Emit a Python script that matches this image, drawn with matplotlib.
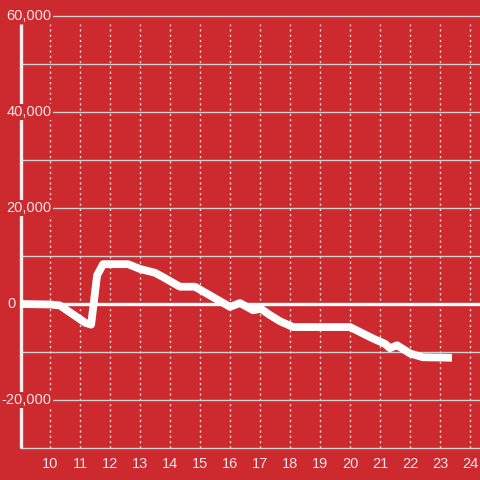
import matplotlib
matplotlib.use("Agg")
import matplotlib.pyplot as plt

# Data: hour of day vs. value
hours = [9.0, 10.0, 10.33, 11.17, 11.37, 11.57, 11.77, 12.6, 13.0, 13.5, 13.77,
         14.33, 14.83, 16.0, 16.33, 16.77, 17.03, 17.33, 17.67, 18.1, 20.0,
         20.77, 21.17, 21.33, 21.57, 22.0, 22.43, 23.4]
values = [0, -100, -300, -3900, -4300, 6000, 8300, 8300, 7300, 6500, 5600,
          3600, 3600, -600, 200, -1300, -1000, -2300, -3600, -4800, -4800,
          -7200, -8300, -9200, -8600, -10300, -11100, -11200]

x_ticks = list(range(10, 25))
x_tick_labels = [str(h) for h in x_ticks]
y_ticks = [60000, 40000, 20000, 0, -20000]
y_tick_labels = ["60,000", "40,000", "20,000", "0", "-20,000"]
grid_levels = list(range(-30000, 60001, 10000))

BG = "#cc2a2f"
TXT = "#f3e4e4"

fig = plt.figure(figsize=(4.8, 4.8), dpi=100, facecolor=BG)
ax = fig.add_axes([0, 0, 1, 1], facecolor=BG)
xa = 9.0                      # axis position (hour)
xl, xr = xa - 20 / 30, xa + 460 / 30
ax.set_xlim(xl, xr)
ax.set_ylim(-30000 - 32 / 48 * 10000, 60000 + 16 / 48 * 10000)
ax.axis("off")

# horizontal solid grid
ax.hlines(grid_levels, xa, xr, colors="#d0d0d0", linewidth=1.0, zorder=1)
# vertical dotted grid
ax.vlines(x_ticks, -30000, 58300, colors="#e0d4d4", linewidth=1.0,
          linestyles=(0, (1.6, 2.2)), zorder=1)
# zero line
ax.hlines([0], xa, xr, colors="white", linewidth=2.4, zorder=2)
# left axis
ax.vlines([xa + 0.02], -30000, 58300, colors="#f2eeee", linewidth=2.4, zorder=2)

# data line
ax.plot(hours, values, color="white", linewidth=5.6, solid_joinstyle="round",
        solid_capstyle="butt", zorder=3)

font = dict(family=["Liberation Sans", "DejaVu Sans"], fontsize=10.5, color=TXT)
for v, lab in zip(y_ticks, y_tick_labels):
    if v == 0:
        ax.text(xa - 4 / 30, v, lab, ha="right", va="center", zorder=4, **font)
    else:
        ax.text(xa + 31.5 / 30, v, lab, ha="right", va="center", zorder=4,
                bbox=dict(facecolor=BG, edgecolor="none", pad=1.0), **font)
for h, lab in zip(x_ticks, x_tick_labels):
    ax.text(h, -30000 - 16 / 48 * 10000, lab, ha="center", va="center",
            zorder=4, **font)

fig.savefig("out.png", dpi=100, facecolor=BG)
